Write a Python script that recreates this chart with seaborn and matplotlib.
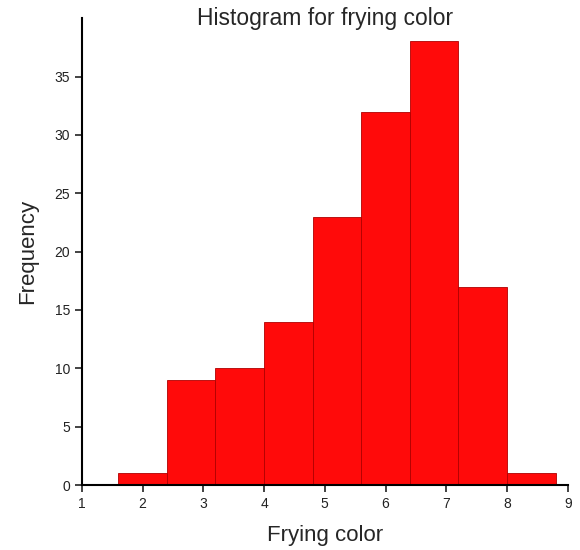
import numpy as np
import seaborn as sns
import matplotlib
matplotlib.use("Agg")
import matplotlib.pyplot as plt

# bin edges and counts
bin_edges = [1.6, 2.4, 3.2, 4.0, 4.8, 5.6, 6.4, 7.2, 8.0, 8.8]
counts = [1, 9, 10, 14, 23, 32, 38, 17, 1]
x_ticks = [1, 2, 3, 4, 5, 6, 7, 8, 9]
y_ticks = [0, 5, 10, 15, 20, 25, 30, 35]

sns.set_style("ticks")
plt.rcParams['font.family'] = ['Liberation Sans', 'DejaVu Sans']

fig = plt.figure(figsize=(5.8, 5.5), dpi=100)
ax = fig.add_axes([0.141, 0.118, 0.838, 0.849])

centers = (np.array(bin_edges[:-1]) + np.array(bin_edges[1:])) / 2
sns.histplot(x=centers, weights=counts, bins=bin_edges, ax=ax,
             color="#ff0a0a", alpha=1.0, edgecolor="#b00000", linewidth=0.6)

ax.set_xlim(1, 9)
ax.set_ylim(0, 40)
ax.set_xticks(x_ticks)
ax.set_yticks(y_ticks)
ax.tick_params(axis='both', direction='out', length=5, width=1.2,
               labelsize=10, colors='#222222')
for side in ['left', 'bottom']:
    ax.spines[side].set_linewidth(1.5)
    ax.spines[side].set_color('black')
sns.despine(ax=ax)

ax.set_xlabel("Frying color", fontsize=16, labelpad=10)
ax.set_ylabel("Frequency", fontsize=16, labelpad=12)
fig.text(0.56, 1 - 18 / 550, "Histogram for frying color", ha='center',
         va='center', fontsize=16.5)

fig.savefig("out.png", dpi=100)
